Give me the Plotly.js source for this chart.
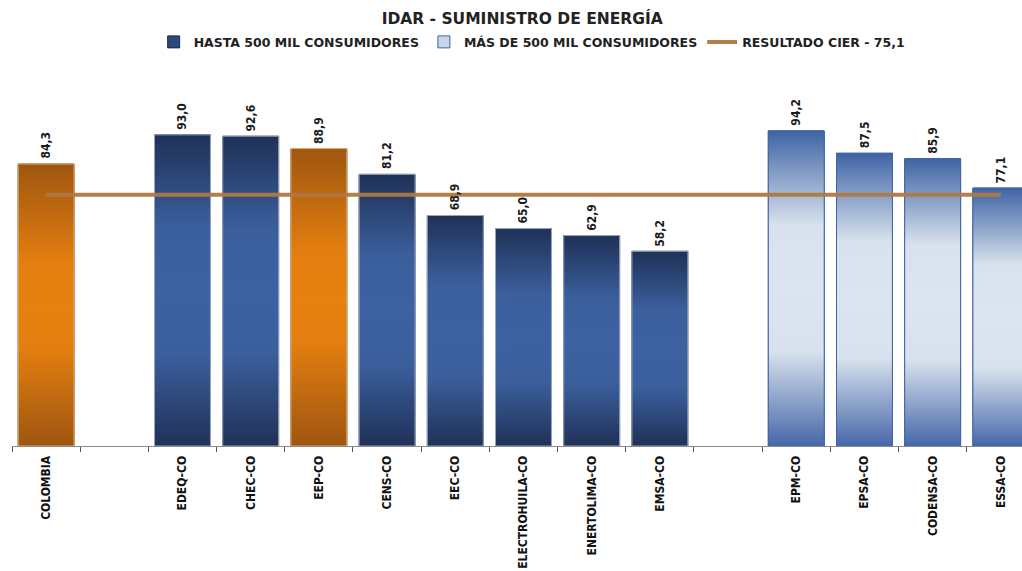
<!DOCTYPE html>
<html>
<head>
<meta charset="utf-8">
<script src="https://cdn.plot.ly/plotly-3.0.1.min.js"></script>
<style>html,body{margin:0;padding:0;background:#fff;}#chart{width:1022px;height:571px;}</style>
</head>
<body>
<div id="chart"></div>
<script>
// ---- data ----
const categories = ['COLOMBIA', '', 'EDEQ-CO', 'CHEC-CO', 'EEP-CO', 'CENS-CO', 'EEC-CO',
  'ELECTROHUILA-CO', 'ENERTOLIMA-CO', 'EMSA-CO', '', 'EPM-CO', 'EPSA-CO', 'CODENSA-CO', 'ESSA-CO'];
const values = [84.3, null, 93.0, 92.6, 88.9, 81.2, 68.9, 65.0, 62.9, 58.2, null, 94.2, 87.5, 85.9, 77.1];
const hasta500 = ['EDEQ-CO', 'CHEC-CO', 'EEP-CO', 'CENS-CO', 'EEC-CO', 'ELECTROHUILA-CO', 'ENERTOLIMA-CO', 'EMSA-CO'];
const mas500 = ['EPM-CO', 'EPSA-CO', 'CODENSA-CO', 'ESSA-CO'];
const highlighted = ['COLOMBIA', 'EEP-CO'];
const cierValue = 75.1;
const seriesNames = ['HASTA 500 MIL CONSUMIDORES', 'MÁS DE 500 MIL CONSUMIDORES', 'RESULTADO CIER - 75,1'];
const titleText = 'IDAR - SUMINISTRO DE ENERGÍA';

// ---- styles ----
const FONT = 'DejaVu Sans Condensed, DejaVu Sans, sans-serif';
const FONT_WIDE = 'DejaVu Sans, sans-serif';
const BAR_W = 0.82;
const styles = {
  dark:   {legend: '#2D4878', border: '#9aa6bf', scale: [[0, '#1f3157'], [0.3, '#3b5f9d'], [0.5, '#3e62a1'], [0.7, '#3b5f9d'], [1, '#1f3157']]},
  light:  {legend: '#c9d5e9', border: '#3f64a4', scale: [[0, '#4667a8'], [0.3, '#d8e2ee'], [0.5, '#dbe4f0'], [0.7, '#d8e2ee'], [1, '#3f64a4']]},
  orange: {legend: '#e47e10', border: '#e8b070', scale: [[0, '#9e5610'], [0.35, '#e47e10'], [0.5, '#e6800f'], [0.65, '#e47e10'], [1, '#9e5610']]}
};

const fmt = v => v.toFixed(1).replace('.', ',');
const idx = name => categories.indexOf(name);

function styleOf(name) {
  if (highlighted.includes(name)) return 'orange';
  if (mas500.includes(name)) return 'light';
  return 'dark';
}

function barTrace(names, st, legendName) {
  return {
    type: 'bar',
    x: names.map(idx),
    y: names.map(n => values[idx(n)]),
    width: BAR_W,
    name: legendName || '',
    showlegend: !!legendName,
    marker: {color: styles[st].legend, line: {color: st === 'light' ? '#3f64a4' : '#1a2a4a', width: 1}},
    hoverinfo: 'skip'
  };
}

const traces = [];
const darkNames = hasta500.filter(n => !highlighted.includes(n));
const orangeNames = categories.filter(n => highlighted.includes(n));
traces.push(barTrace(darkNames, 'dark', seriesNames[0]));
traces.push(barTrace(mas500, 'light', seriesNames[1]));
traces.push(barTrace(orangeNames, 'orange', null));

// gradient bodies drawn over bars
categories.forEach((name, i) => {
  if (!name || values[i] == null) return;
  const st = styles[styleOf(name)];
  const h = BAR_W / 2;
  traces.push({
    type: 'scatter', mode: 'lines',
    x: [i - h, i - h, i + h, i + h, i - h],
    y: [0, values[i], values[i], 0, 0],
    fill: 'toself',
    fillgradient: {type: 'vertical', colorscale: st.scale},
    line: {color: st.border, width: 1},
    showlegend: false, hoverinfo: 'skip'
  });
});

// reference line
const named = categories.map((n, i) => n ? i : null).filter(v => v !== null);
const lineX = [named[0], named[named.length - 1]];
traces.push({
  type: 'scatter', mode: 'lines',
  x: lineX, y: lineX.map(() => cierValue),
  name: seriesNames[2],
  line: {color: '#b07840', width: 4},
  opacity: 0.95,
  hoverinfo: 'skip'
});

// value labels (above everything)
const annotations = named.map(i => ({
  x: i, y: values[i], xref: 'x', yref: 'y',
  text: fmt(values[i]), showarrow: false,
  textangle: -90, xanchor: 'center', yanchor: 'bottom', yshift: 3,
  font: {family: FONT, size: 12, color: '#1a1a1a', weight: 'bold'}
}));

const layout = {
  width: 1022, height: 571,
  margin: {l: 12, r: 0, t: 78, b: 125},
  paper_bgcolor: '#ffffff', plot_bgcolor: '#ffffff',
  showlegend: true,
  title: {text: titleText, x: 0.511, xanchor: 'center', y: 0.968, yanchor: 'middle',
    font: {family: FONT_WIDE, size: 15.5, color: '#222', weight: 'bold'}},
  legend: {orientation: 'h', x: 0.515, xanchor: 'center', yref: 'container', y: 0.926, yanchor: 'middle',
    font: {family: FONT_WIDE, size: 12.5, color: '#222', weight: 'bold'}, traceorder: 'normal', itemwidth: 30},
  annotations: annotations,
  xaxis: {
    range: [-0.5, 14.31],
    tickmode: 'array', tickvals: named, ticktext: named.map(i => categories[i]),
    tickangle: -90, ticks: 'outside', ticklen: 4, tickcolor: 'rgba(0,0,0,0)',
    tickfont: {family: FONT, size: 12, color: '#111', weight: 'bold'},
    showline: true, linecolor: '#8c8c8c', linewidth: 1,
    showgrid: false, zeroline: false, fixedrange: true,
    minor: {ticks: 'outside', ticklen: 5, tick0: -0.5, dtick: 1, tickcolor: '#555', tickwidth: 1, showgrid: false}
  },
  yaxis: {range: [0, 110], visible: false, fixedrange: true},
  barmode: 'overlay',
  bargap: 0
};

Plotly.newPlot('chart', traces, layout, {staticPlot: true, displayModeBar: false});
</script>
</body>
</html>
